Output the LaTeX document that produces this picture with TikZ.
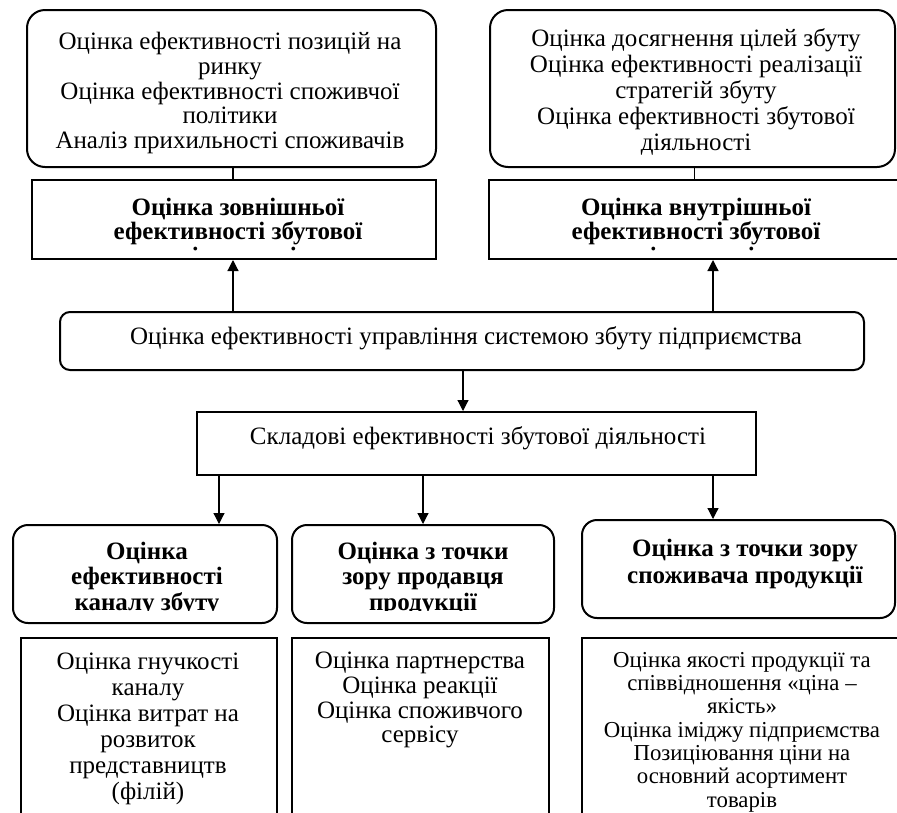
\documentclass[tikz,border=0pt]{standalone}
\usepackage{fontspec}
\setmainfont{Liberation Serif}
\usetikzlibrary{arrows.meta}
\begin{document}
\begin{tikzpicture}[x=1pt,y=-1pt,
  rbox/.style={draw, line width=2pt, rounded corners=18pt, inner sep=0pt},
  sbox/.style={draw, line width=2pt, inner sep=0pt},
  conn/.style={line width=1.2pt},
  arr/.style={line width=1.2pt, -{Triangle[width=11pt,length=11pt]}},
  txt/.style={align=center, inner sep=0pt, font=\fontsize{25}{24.75}\selectfont},
  btxt/.style={align=center, inner sep=0pt, font=\bfseries\fontsize{25}{24.5}\selectfont},
]
\useasboundingbox (0,0) rectangle (897,812);
% boxes
\node[rbox, minimum width=409pt, minimum height=157pt] (tl) at (231.5,88.5) {};
\node[rbox, minimum width=405pt, minimum height=157pt] (tr) at (692.5,88.5) {};
\node[sbox, minimum width=404pt, minimum height=79pt] (lr) at (234,219.5) {};
\node[sbox, minimum width=411pt, minimum height=79pt] (rr) at (694.5,219.5) {};
\node[rbox, rounded corners=10pt, minimum width=804pt, minimum height=58pt] (main) at (462,341) {};
\node[sbox, minimum width=559pt, minimum height=63pt] (skl) at (476.5,443.5) {};
\node[rbox, rounded corners=15pt, minimum width=264pt, minimum height=98pt] (b1) at (145,574) {};
\node[rbox, rounded corners=15pt, minimum width=262pt, minimum height=98pt] (b2) at (423,574) {};
\node[rbox, rounded corners=15pt, minimum width=313pt, minimum height=98pt] (b3) at (738.5,569) {};
\node[sbox, minimum width=256pt, minimum height=192pt] (c1) at (149,734) {};
\node[sbox, minimum width=257pt, minimum height=192pt] (c2) at (420.5,734) {};
\node[sbox, minimum width=318pt, minimum height=192pt] (c3) at (741,734) {};
% texts
\node[txt, anchor=north] (tlt) at (230,32) {Оцінка ефективності позицій на\\ринку\\Оцінка ефективності споживчої\\політики\\Аналіз прихильності споживачів};
\node[txt, anchor=north, font=\fontsize{25}{26}\selectfont] (trt) at (696,28) {Оцінка досягнення цілей збуту\\Оцінка ефективності реалізації\\стратегій збуту\\Оцінка ефективності збутової\\діяльності};
\begin{scope}
\clip (32,180) rectangle (436,250);
\node[btxt, anchor=north] (lrt) at (238,197.5) {Оцінка зовнішньої\\ефективності збутової\\діяльності};
\end{scope}
\begin{scope}
\clip (489,180) rectangle (897,250);
\node[btxt, anchor=north] (rrt) at (696,197.5) {Оцінка внутрішньої\\ефективності збутової\\діяльності};
\end{scope}
\node[txt] (maint) at (466,338) {Оцінка ефективності управління системою збуту підприємства};
\node[txt] (sklt) at (478,438) {Складові ефективності збутової діяльності};
\begin{scope}
\clip (13,525) rectangle (277,610);
\node[btxt, anchor=north, font=\bfseries\fontsize{25}{25.5}\selectfont] (b1t) at (147,541.5) {Оцінка\\ефективності\\каналу збуту};
\end{scope}
\begin{scope}
\clip (292,525) rectangle (554,610);
\node[btxt, anchor=north, font=\bfseries\fontsize{25}{25.5}\selectfont] (b2t) at (423,541.5) {Оцінка з точки\\зору продавця\\продукції};
\end{scope}
\node[btxt, anchor=north, font=\bfseries\fontsize{25}{27}\selectfont] (b3t) at (745,538.5) {Оцінка з точки зору\\споживача продукції};
\node[txt, anchor=north, font=\fontsize{25}{26}\selectfont] (c1t) at (148,653) {Оцінка гнучкості\\каналу\\Оцінка витрат на\\розвиток\\представництв\\(філій)};
\node[txt, anchor=north, font=\fontsize{25}{24.7}\selectfont] (c2t) at (420,652) {Оцінка партнерства\\Оцінка реакції\\Оцінка споживчого\\сервісу};
\node[txt, anchor=north, font=\fontsize{22.8}{23.3}\selectfont] (c3t) at (742,652) {Оцінка якості продукції та\\співвідношення «ціна –\\якість»\\Оцінка іміджу підприємства\\Позиціювання ціни на\\основний асортимент\\товарів};
% connectors
\coordinate (xl) at (233,0);
\coordinate (xr) at (713,0);
\coordinate (xm) at (463,0);
\coordinate (x1) at (219,0);
\coordinate (x2) at (423,0);
\draw[conn] (tl.south -| xl) -- (lr.north -| xl);
\draw[conn] (tr.south -| rr.north) -- (rr.north);
\draw[arr] (main.north -| xl) -- (lr.south -| xl);
\draw[arr] (main.north -| xr) -- (rr.south -| xr);
\draw[arr] (main.south -| xm) -- (skl.north -| xm);
\draw[arr] (skl.south -| x1) -- (b1.north -| x1);
\draw[arr] (skl.south -| x2) -- (b2.north -| x2);
\draw[arr] (skl.south -| xr) -- (b3.north -| xr);
\end{tikzpicture}
\end{document}
